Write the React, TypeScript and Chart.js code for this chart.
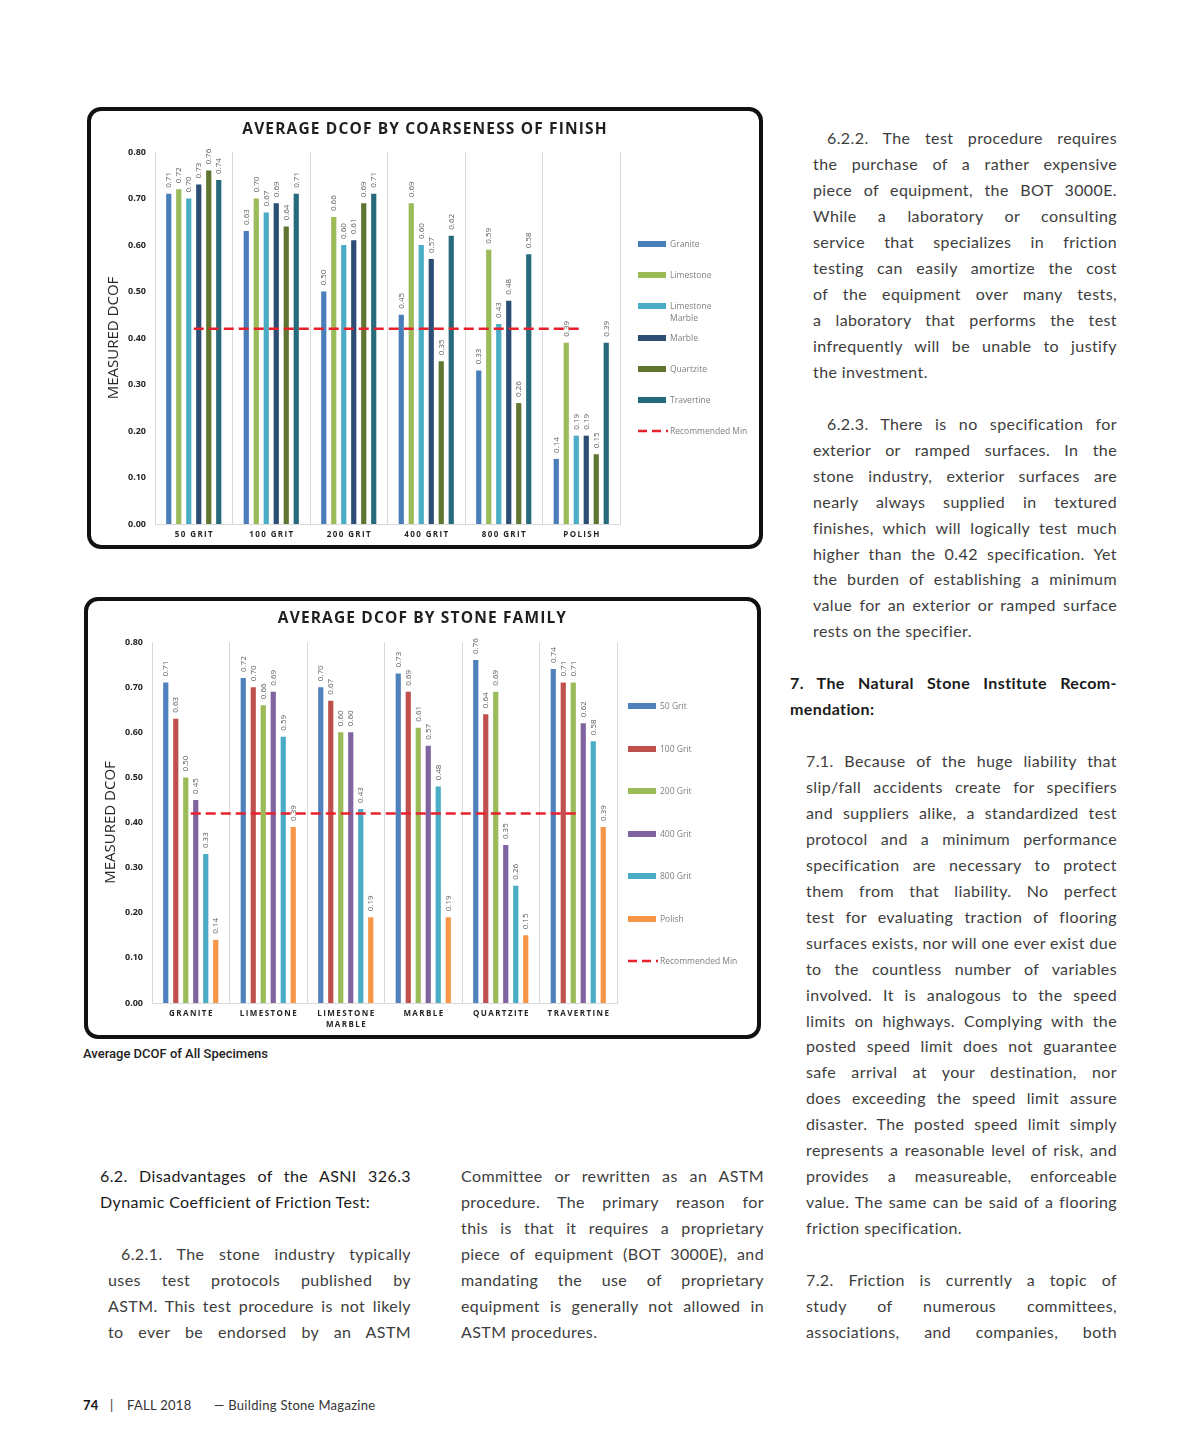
import React, { useEffect, useRef } from 'react';
import { Chart, registerables } from 'chart.js';

Chart.register(...registerables);

// ---------------- DATA ----------------
const finishes = ['50 Grit', '100 Grit', '200 Grit', '400 Grit', '800 Grit', 'Polish'];
const stones = ['Granite', 'Limestone', 'Limestone Marble', 'Marble', 'Quartzite', 'Travertine'];

// values per stone, in the order of `finishes`
const granite = [0.71, 0.63, 0.5, 0.45, 0.33, 0.14];
const limestone = [0.72, 0.7, 0.66, 0.69, 0.59, 0.39];
const limestoneMarble = [0.7, 0.67, 0.6, 0.6, 0.43, 0.19];
const marble = [0.73, 0.69, 0.61, 0.57, 0.48, 0.19];
const quartzite = [0.76, 0.64, 0.69, 0.35, 0.26, 0.15];
const travertine = [0.74, 0.71, 0.71, 0.62, 0.58, 0.39];

const recommendedMin = 0.42;
const yMin = 0;
const yMax = 0.8;
const yStep = 0.1;

const stoneSeries = [granite, limestone, limestoneMarble, marble, quartzite, travertine];
const stoneColors = ['#4A7EBB', '#9BBB59', '#4BACC6', '#2C4D75', '#5F7530', '#276A7C'];
const finishColors = ['#4F81BD', '#C0504D', '#9BBB59', '#8064A2', '#4BACC6', '#F79646'];
const RED = '#E8202C';

// ---------------- PLUGINS ----------------
const valueLabels = {
  id: 'valueLabels',
  beforeDatasetsDraw(chart: any) {
    const ctx = chart.ctx;
    ctx.save();
    ctx.font = '8px "Open Sans"';
    ctx.fillStyle = '#595959';
    ctx.textAlign = 'left';
    ctx.textBaseline = 'middle';
    chart.data.datasets.forEach((ds: any, di: number) => {
      if (ds.type === 'line') return;
      const meta = chart.getDatasetMeta(di);
      meta.data.forEach((bar: any, i: number) => {
        const v = ds.data[i];
        ctx.save();
        ctx.translate(bar.x, bar.y - 6);
        ctx.rotate(-Math.PI / 2);
        ctx.fillText(Number(v).toFixed(2), 0, 0);
        ctx.restore();
      });
    });
    ctx.restore();
  },
};

const catLabels = {
  id: 'catLabels',
  afterDraw(chart: any, _args: any, opts: any) {
    const xs = chart.scales.x;
    const ctx = chart.ctx;
    const ls = 1.4;
    ctx.save();
    ctx.font = 'bold 8px "Open Sans"';
    ctx.fillStyle = '#262626';
    ctx.textAlign = 'center';
    ctx.textBaseline = 'middle';
    (ctx as any).letterSpacing = ls + 'px';
    chart.data.labels.forEach((lab: any, i: number) => {
      const x = xs.getPixelForTick(i) + ls / 2;
      const text = String(lab).toUpperCase();
      const lines = opts && opts.split ? text.split(' ') : [text];
      lines.forEach((ln: string, j: number) => {
        ctx.fillText(ln, x, chart.chartArea.bottom + 11 + j * 11);
      });
    });
    ctx.restore();
  },
};

function buildConfig(labels: string[], series: { label: string; data: number[]; color: string }[], split: boolean, rightPad: number, bottomPad: number) {
  return {
    type: 'bar',
    data: {
      labels,
      datasets: [
        {
          type: 'line',
          label: 'Recommended Min',
          data: labels.map(() => recommendedMin),
          borderColor: RED,
          borderWidth: 2.5,
          borderDash: [10, 5],
          pointRadius: 0,
          fill: false,
          order: 0,
        },
        ...series.map((s) => ({
          type: 'bar',
          label: s.label,
          data: s.data,
          backgroundColor: s.color,
          borderWidth: 0,
          barPercentage: 0.52,
          categoryPercentage: 0.774,
          order: 1,
        })),
      ],
    },
    options: {
      responsive: false,
      animation: false,
      devicePixelRatio: 1,
      layout: { padding: { left: 0, top: 41, right: rightPad, bottom: bottomPad } },
      plugins: {
        legend: { display: false },
        tooltip: { enabled: false },
        title: { display: false },
        catLabels: { split },
      },
      scales: {
        x: {
          type: 'category',
          offset: true,
          grid: { display: true, offset: true, color: '#d9d9d9', drawTicks: false, lineWidth: 1 },
          border: { display: true, color: '#d9d9d9' },
          ticks: { display: false },
          afterFit: (s: any) => {
            s.height = 20;
          },
        },
        y: {
          min: yMin,
          max: yMax,
          afterFit: (s: any) => {
            s.width = 64;
          },
          grid: { display: false, drawTicks: false },
          border: { display: true, color: '#d9d9d9' },
          ticks: {
            stepSize: yStep,
            padding: 9,
            font: { family: 'Open Sans', size: 9, weight: 'bold' },
            color: '#262626',
            callback: (v: any) => Number(v).toFixed(2),
          },
          title: {
            display: true,
            text: 'MEASURED DCOF',
            font: { family: 'Open Sans', size: 15, lineHeight: 1.2 },
            color: '#262626',
            padding: { top: 14, bottom: 0 },
          },
        },
      },
    },
    plugins: [valueLabels, catLabels],
  };
}

// ---------------- COMPONENTS ----------------
type Box = { left: number; top: number; width: number; height: number };

function ChartBox({ box, title, titleY, config }: { box: Box; title: string; titleY: number; config: any }) {
  const ref = useRef<HTMLCanvasElement | null>(null);
  const inner = { w: box.width - 8, h: box.height - 8 };
  useEffect(() => {
    if (!ref.current) return;
    const c = new Chart(ref.current, config);
    return () => c.destroy();
  }, []);
  return (
    <>
      <div
        style={{
          position: 'absolute',
          left: box.left,
          top: box.top,
          width: box.width,
          height: box.height,
          boxSizing: 'border-box',
          border: '4px solid #111',
          borderRadius: 14,
          background: '#fff',
        }}
      >
        <canvas
          ref={ref}
          width={inner.w}
          height={inner.h}
          style={{ position: 'absolute', left: 0, top: 0, width: inner.w, height: inner.h }}
        />
      </div>
      <div
        style={{
          position: 'absolute',
          left: box.left,
          width: box.width,
          top: titleY - 11,
          height: 22,
          lineHeight: '22px',
          textAlign: 'center',
          fontFamily: '"Open Sans", sans-serif',
          fontWeight: 700,
          fontSize: 15.5,
          letterSpacing: 1.15,
          color: '#1f1f1f',
          whiteSpace: 'nowrap',
        }}
      >
        {title}
      </div>
    </>
  );
}

function Legend({ items, left, top, gap, textWidth }: { items: { label: string; color: string; dashed?: boolean }[]; left: number; top: number; gap: number; textWidth: number }) {
  return (
    <>
      {items.map((it, i) => {
        const cy = top + i * gap;
        return (
          <React.Fragment key={i}>
            {it.dashed ? (
              <svg style={{ position: 'absolute', left, top: cy - 3 }} width={30} height={6}>
                <line x1={0} y1={3} x2={30} y2={3} stroke={it.color} strokeWidth={2.5} strokeDasharray="9 5" />
              </svg>
            ) : (
              <div style={{ position: 'absolute', left, top: cy - 3, width: 28, height: 6, background: it.color }} />
            )}
            <div
              style={{
                position: 'absolute',
                left: left + 32,
                top: cy - 6,
                width: it.dashed ? 'auto' : textWidth,
                whiteSpace: it.dashed ? 'nowrap' : 'normal',
                lineHeight: '12px',
                fontFamily: '"Open Sans", sans-serif',
                fontSize: 8.5,
                color: '#7f7f7f',
              }}
            >
              {it.label}
            </div>
          </React.Fragment>
        );
      })}
    </>
  );
}

function Lines({ lines, left, right, top, step, firstIndent = 0, justifyLast = false, style = {} }: any) {
  return (
    <>
      {lines.map((t: string, i: number) => {
        const isLast = i === lines.length - 1;
        const l = i === 0 ? left + firstIndent : left;
        const just = !isLast || justifyLast;
        return (
          <div
            key={i}
            style={{
              position: 'absolute',
              left: l,
              width: right - l,
              top: top + i * step - 13,
              height: 26,
              lineHeight: '26px',
              whiteSpace: 'nowrap',
              textAlign: just ? 'justify' : 'left',
              textAlignLast: just ? 'justify' : 'left',
              fontFamily: 'Lato, sans-serif',
              fontSize: 16,
              letterSpacing: 0.4,
              color: '#3d3d3d',
              ...style,
            }}
          >
            {t}
          </div>
        );
      })}
    </>
  );
}

const p622 = [
  '6.2.2. The test procedure requires',
  'the purchase of a rather expensive',
  'piece of equipment, the BOT 3000E.',
  'While a laboratory or consulting',
  'service that specializes in friction',
  'testing can easily amortize the cost',
  'of the equipment over many tests,',
  'a laboratory that performs the test',
  'infrequently will be unable to justify',
  'the investment.',
];
const p623 = [
  '6.2.3. There is no specification for',
  'exterior or ramped surfaces. In the',
  'stone industry, exterior surfaces are',
  'nearly always supplied in textured',
  'finishes, which will logically test much',
  'higher than the 0.42 specification. Yet',
  'the burden of establishing a minimum',
  'value for an exterior or ramped surface',
  'rests on the specifier.',
];
const h7 = ['7. The Natural Stone Institute Recom-', 'mendation:'];
const p71 = [
  '7.1. Because of the huge liability that',
  'slip/fall accidents create for specifiers',
  'and suppliers alike, a standardized test',
  'protocol and a minimum performance',
  'specification are necessary to protect',
  'them from that liability. No perfect',
  'test for evaluating traction of flooring',
  'surfaces exists, nor will one ever exist due',
  'to the countless number of variables',
  'involved. It is analogous to the speed',
  'limits on highways. Complying with the',
  'posted speed limit does not guarantee',
  'safe arrival at your destination, nor',
  'does exceeding the speed limit assure',
  'disaster. The posted speed limit simply',
  'represents a reasonable level of risk, and',
  'provides a measureable, enforceable',
  'value. The same can be said of a flooring',
  'friction specification.',
];
const p72 = ['7.2. Friction is currently a topic of', 'study of numerous committees,', 'associations, and companies, both'];
const midCol = [
  'Committee or rewritten as an ASTM',
  'procedure. The primary reason for',
  'this is that it requires a proprietary',
  'piece of equipment (BOT 3000E), and',
  'mandating the use of proprietary',
  'equipment is generally not allowed in',
  'ASTM procedures.',
];
const h62 = ['6.2. Disadvantages of the ASNI 326.3', 'Dynamic Coefficient of Friction Test:'];
const p621 = [
  '6.2.1. The stone industry typically',
  'uses test protocols published by',
  'ASTM. This test procedure is not likely',
  'to ever be endorsed by an ASTM',
];

export default function App() {
  const config1 = buildConfig(
    finishes,
    stones.map((s, i) => ({ label: s, data: stoneSeries[i], color: stoneColors[i] })),
    false,
    139,
    1
  );
  const config2 = buildConfig(
    stones,
    finishes.map((f, fi) => ({ label: f, data: stoneSeries.map((s) => s[fi]), color: finishColors[fi] })),
    true,
    140,
    12
  );

  const legend1 = [
    ...stones.map((s, i) => ({ label: s, color: stoneColors[i] })),
    { label: 'Recommended Min', color: RED, dashed: true },
  ];
  const legend2 = [
    ...finishes.map((f, i) => ({ label: f, color: finishColors[i] })),
    { label: 'Recommended Min', color: RED, dashed: true },
  ];

  return (
    <div style={{ position: 'absolute', left: 0, top: 0, width: 1200, height: 1450, background: '#fff', overflow: 'hidden' }}>
      <ChartBox box={{ left: 87, top: 107, width: 676, height: 442 }} title="AVERAGE DCOF BY COARSENESS OF FINISH" titleY={128} config={config1} />
      <Legend items={legend1} left={638} top={244} gap={31.2} textWidth={55} />

      <ChartBox box={{ left: 84, top: 597, width: 677, height: 442 }} title="AVERAGE DCOF BY STONE FAMILY" titleY={617} config={config2} />
      <Legend items={legend2} left={628} top={706} gap={42.5} textWidth={80} />

      <div
        style={{
          position: 'absolute',
          left: 83,
          top: 1045,
          lineHeight: '18px',
          fontFamily: 'Roboto, sans-serif',
          fontWeight: 500,
          fontSize: 13,
          color: '#222',
          whiteSpace: 'nowrap',
        }}
      >
        Average DCOF of All Specimens
      </div>

      <Lines lines={p622} left={813} right={1117} top={138} step={26} firstIndent={14} />
      <Lines lines={p623} left={813} right={1117} top={424} step={25.9} firstIndent={14} />
      <Lines lines={h7} left={790} right={1117} top={683} step={26} style={{ fontWeight: 700, color: '#1a1a1a' }} />
      <Lines lines={p71} left={806} right={1117} top={761} step={25.95} />
      <Lines lines={p72} left={806} right={1117} top={1280} step={26} justifyLast={true} />
      <Lines lines={midCol} left={461} right={764} top={1176} step={26} />
      <Lines lines={h62} left={100} right={411} top={1176} step={26} style={{ color: '#1a1a1a' }} />
      <Lines lines={p621} left={108} right={411} top={1254} step={26} firstIndent={13} justifyLast={true} />

      <div style={{ position: 'absolute', left: 83, top: 1396, fontFamily: 'Lato, sans-serif', fontSize: 13, lineHeight: '18px', letterSpacing: 0.3, color: '#333', whiteSpace: 'nowrap' }}>
        <span style={{ position: 'absolute', left: 0, fontWeight: 700, color: '#111' }}>74</span>
        <span style={{ position: 'absolute', left: 27 }}>|</span>
        <span style={{ position: 'absolute', left: 44 }}>FALL 2018</span>
        <span style={{ position: 'absolute', left: 131 }}>— Building Stone Magazine</span>
      </div>
    </div>
  );
}
